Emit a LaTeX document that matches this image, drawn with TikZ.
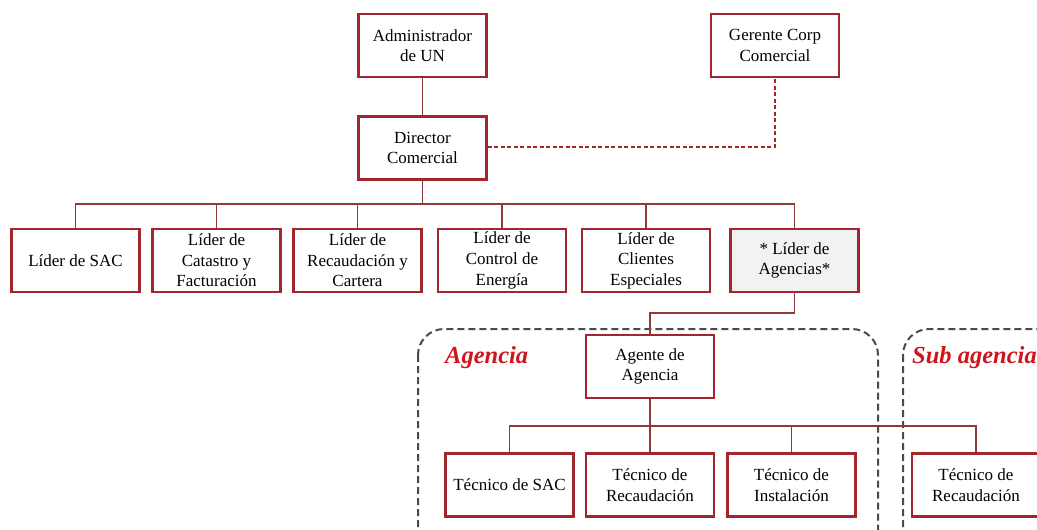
\documentclass[tikz,border=0pt]{standalone}
\usepackage{fontspec}
\setmainfont{Liberation Serif}
\definecolor{boxred}{HTML}{A3262C}
\definecolor{linered}{HTML}{8E3A3A}
\definecolor{grpgray}{HTML}{4A4A4A}
\definecolor{lblred}{HTML}{D0141C}
\definecolor{lightfill}{HTML}{F2F2F2}
\begin{document}
\begin{tikzpicture}[x=1pt,y=-1pt,
  box/.style={draw=boxred,line width=2.4pt,fill=white,minimum width=128pt,minimum height=63pt,
    align=center,inner sep=1pt,font=\fontsize{17}{20.6}\selectfont},
  conn/.style={draw=linered,line width=1.4pt},
  dconn/.style={draw=boxred,line width=1.4pt,dash pattern=on 4pt off 2.5pt},
  grp/.style={draw=grpgray,line width=2pt,dash pattern=on 7pt off 4pt,rounded corners=26pt},
  grplbl/.style={text=lblred,font=\fontsize{24.5}{28}\selectfont\bfseries\itshape,anchor=base west,inner sep=0pt}
]
\useasboundingbox (0,0) rectangle (1037,530);
\clip (0,0) rectangle (1037,530);
% groups
\draw[grp] (418,329) rectangle (878,560);
\draw[grp] (903,329) rectangle (1080,560);
\node[grplbl] (lagencia) at (445,363) {Agencia};
\node[grplbl] (lsub) at (912,363) {Sub agencia};
% top
\node[box] (adm) at (422.5,45.5) {Administrador\\de UN};
\node[box] (ger) at (775,45.5) {Gerente Corp\\Comercial};
\node[box] (dir) at (422.5,148) {Director\\Comercial};
% row 2
\node[box] (sac) at (75.5,260.5) {Líder de SAC};
\node[box] (cat) at (216.5,260.5) {Líder de\\Catastro y\\Facturación};
\node[box] (rec) at (357.5,260.5) {Líder de\\Recaudación y\\Cartera};
\node[box] (ctl) at (502,260.5) {Líder de\\Control de\\Energía};
\node[box] (cli) at (646,260.5) {Líder de\\Clientes\\Especiales};
\node[box,fill=lightfill] (lag) at (794.5,260.5) {* Líder de\\Agencias*};
% agente
\node[box] (age) at (650,366.5) {Agente de\\Agencia};
% row 3
\node[box] (tsac) at (509.5,485) {Técnico de SAC};
\node[box] (trec) at (650,485) {Técnico de\\Recaudación};
\node[box] (tins) at (791.5,485) {Técnico de\\Instalación};
\node[box] (trec2) at (976,485) {Técnico de\\Recaudación};
% connectors
\coordinate (bus1) at (0,204);
\coordinate (bus2) at (0,313);
\coordinate (bus3) at (0,426);
\draw[conn] (adm.south) -- (dir.north);
\draw[dconn] (dir.east |- 0,147) -| (ger.south);
\foreach \c in {sac,cat,rec,ctl,cli,lag}{
  \draw[conn] (dir.south) -- (dir.south |- bus1) -| (\c.north);
}
\draw[conn] (lag.south) -- (lag.south |- bus2) -| (age.north);
\foreach \c in {tsac,trec,tins,trec2}{
  \draw[conn] (age.south) -- (age.south |- bus3) -| (\c.north);
}
\end{tikzpicture}
\end{document}
